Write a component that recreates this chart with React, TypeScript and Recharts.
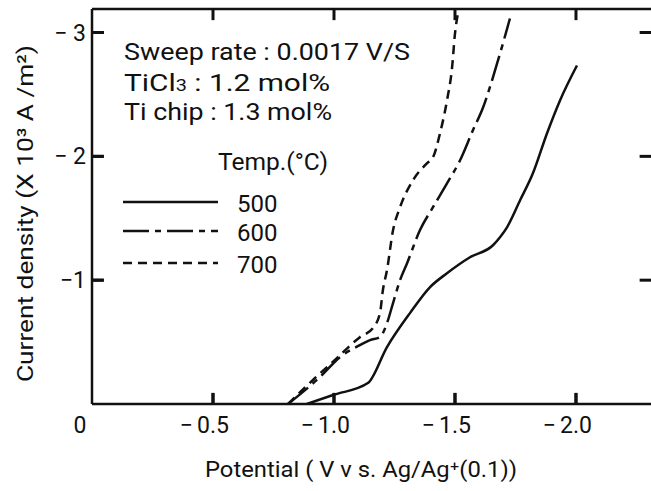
import { LineChart, Line, XAxis, YAxis, ReferenceLine } from 'recharts'

interface Pt {
  x: number
  y: number
}

// potential (V vs Ag/Ag+) and current density (x10^3 A/m^2)
const temp500: Pt[] = [
  { x: -0.888, y: 0 },
  { x: -0.996, y: -0.073 },
  { x: -1.14, y: -0.169 },
  { x: -1.219, y: -0.46 },
  { x: -1.314, y: -0.734 },
  { x: -1.397, y: -0.944 },
  { x: -1.467, y: -1.056 },
  { x: -1.562, y: -1.185 },
  { x: -1.657, y: -1.282 },
  { x: -1.686, y: -1.347 },
  { x: -1.715, y: -1.427 },
  { x: -1.769, y: -1.645 },
  { x: -1.822, y: -1.863 },
  { x: -1.88, y: -2.185 },
  { x: -1.934, y: -2.452 },
  { x: -2.004, y: -2.734 },
]

const temp600: Pt[] = [
  { x: -0.81, y: 0 },
  { x: -0.942, y: -0.218 },
  { x: -1.025, y: -0.379 },
  { x: -1.107, y: -0.476 },
  { x: -1.149, y: -0.516 },
  { x: -1.19, y: -0.54 },
  { x: -1.219, y: -0.653 },
  { x: -1.244, y: -0.815 },
  { x: -1.273, y: -1.0 },
  { x: -1.302, y: -1.137 },
  { x: -1.355, y: -1.403 },
  { x: -1.409, y: -1.589 },
  { x: -1.467, y: -1.782 },
  { x: -1.521, y: -1.968 },
  { x: -1.574, y: -2.21 },
  { x: -1.616, y: -2.395 },
  { x: -1.674, y: -2.75 },
  { x: -1.727, y: -3.113 },
]

const temp700: Pt[] = [
  { x: -0.81, y: 0 },
  { x: -0.913, y: -0.194 },
  { x: -1.012, y: -0.371 },
  { x: -1.107, y: -0.54 },
  { x: -1.161, y: -0.613 },
  { x: -1.19, y: -0.734 },
  { x: -1.202, y: -0.919 },
  { x: -1.219, y: -1.081 },
  { x: -1.244, y: -1.403 },
  { x: -1.273, y: -1.589 },
  { x: -1.326, y: -1.806 },
  { x: -1.384, y: -1.944 },
  { x: -1.409, y: -1.992 },
  { x: -1.438, y: -2.185 },
  { x: -1.467, y: -2.452 },
  { x: -1.488, y: -2.718 },
  { x: -1.5, y: -2.992 },
  { x: -1.512, y: -3.153 },
]

const xTicks = [0, -0.5, -1.0, -1.5, -2.0]
const yTicks = [-3, -2, -1]
const legendTemps = ['500', '600', '700']

const X_MAX = -2.31
const Y_MAX = -3.19
// inward tick lengths in data units (~11px)
const TICK_DY = 0.09
const TICK_DX = 0.047

const FONT = 'Roboto, "DejaVu Sans", sans-serif'
const INK = '#111'

const dashes: Record<string, string | undefined> = {
  '500': undefined,
  '600': '26 6 6 6',
  '700': '9 6',
}

const BottomTick = (props: any) => {
  const { x, y, payload } = props
  const v: number = payload.value
  const num = Math.abs(v).toFixed(v === 0 ? 0 : 1)
  if (v === 0) {
    return (
      <text x={x - 12} y={y + 29} textAnchor="middle" fontSize={23} fontFamily={FONT} fill={INK}>0</text>
    )
  }
  return (
    <g>
      <line x1={x} x2={x} y1={y} y2={y - 11} stroke={INK} strokeWidth={3} />
      <text x={x} y={y + 29} textAnchor="middle" fontSize={23} fontFamily={FONT} fill={INK}>{num}</text>
      <text x={x - 20} y={y + 29} textAnchor="end" fontSize={23} fontFamily={FONT} fill={INK}>−</text>
    </g>
  )
}

const LeftTick = (props: any) => {
  const { x, y, payload } = props
  const v: number = payload.value
  const label = v === -1 ? '−1' : `− ${Math.abs(v)}`
  return (
    <g>
      <line x1={x} x2={x + 12} y1={y} y2={y} stroke={INK} strokeWidth={3} />
      <text x={x - 6} y={y + 8} textAnchor="end" fontSize={23} fontFamily={FONT} fill={INK}>{label}</text>
    </g>
  )
}

export default function App() {
  const tickProps = { stroke: INK, strokeWidth: 3, ifOverflow: 'visible' as const }
  return (
    <div style={{ position: 'absolute', left: 0, top: 0, width: 651, height: 491, overflow: 'hidden', background: '#fff' }}>
      <svg width={651} height={491} style={{ position: 'absolute', left: 0, top: 0, zIndex: 0 }}>
        <g fontFamily={FONT} fill={INK} fontSize={24}>
          <text x={124} y={60} textLength={286} lengthAdjust="spacingAndGlyphs">Sweep rate : 0.0017 V/S</text>
          <text x={124} y={91} textLength={206} lengthAdjust="spacingAndGlyphs">TiCl<tspan fontSize={16}>3</tspan> : 1.2 mol%</text>
          <text x={124} y={120} textLength={208} lengthAdjust="spacingAndGlyphs">Ti chip : 1.3 mol%</text>
          <text x={218} y={170} textLength={110} lengthAdjust="spacingAndGlyphs">Temp.(°C)</text>
          {legendTemps.map((t, i) => {
            const ly = [202, 231, 263][i]
            return (
              <g key={t}>
                <line x1={123} x2={218} y1={ly} y2={ly} stroke={INK} strokeWidth={2.5} strokeDasharray={dashes[t]} />
                <text x={237} y={ly + 10}>{t}</text>
              </g>
            )
          })}
          <text x={205} y={477} fontSize={22} textLength={312} lengthAdjust="spacingAndGlyphs">Potential  ( V  v s. Ag/Ag⁺(0.1))</text>
          <text
            x={0}
            y={0}
            fontSize={22}
            transform="translate(33, 382) rotate(-90)"
            textLength={337}
            lengthAdjust="spacingAndGlyphs"
          >
            Current  density (X 10³ A /m²)
          </text>
        </g>
      </svg>

      <div style={{ position: 'absolute', left: 0, top: 0, zIndex: 1 }}>
        <LineChart width={652} height={491} margin={{ top: 9, right: 1, left: 91, bottom: 86 }}>
          <XAxis
            dataKey="x"
            type="number"
            domain={[X_MAX, 0]}
            reversed
            ticks={xTicks}
            height={1}
            tickSize={0}
            tickMargin={0}
            tickLine={false}
            tick={BottomTick}
            axisLine={{ stroke: INK, strokeWidth: 2.5 }}
            allowDataOverflow
          />
          <YAxis
            type="number"
            domain={[Y_MAX, 0]}
            reversed
            ticks={yTicks}
            width={1}
            tickSize={0}
            tickMargin={0}
            tickLine={false}
            tick={LeftTick}
            axisLine={{ stroke: INK, strokeWidth: 2.5 }}
            allowDataOverflow
          />
          <ReferenceLine y={Y_MAX} stroke={INK} strokeWidth={2.5} ifOverflow="visible" />
          {xTicks.filter((t) => t !== 0).map((t) => (
            <ReferenceLine key={`b${t}`} segment={[{ x: t, y: 0 }, { x: t, y: -TICK_DY }]} {...tickProps} />
          ))}
          {xTicks.filter((t) => t !== 0).map((t) => (
            <ReferenceLine key={`t${t}`} segment={[{ x: t, y: Y_MAX }, { x: t, y: Y_MAX + TICK_DY }]} {...tickProps} />
          ))}
          {yTicks.map((t) => (
            <ReferenceLine key={`l${t}`} segment={[{ x: 0, y: t }, { x: -TICK_DX, y: t }]} {...tickProps} />
          ))}
          {yTicks.map((t) => (
            <ReferenceLine key={`r${t}`} segment={[{ x: X_MAX, y: t }, { x: X_MAX + TICK_DX, y: t }]} {...tickProps} />
          ))}
          <Line data={temp500} dataKey="y" type="monotone" stroke={INK} strokeWidth={2.5} dot={false} isAnimationActive={false} />
          <Line data={temp600} dataKey="y" type="monotone" stroke={INK} strokeWidth={2.5} strokeDasharray={dashes['600']} dot={false} isAnimationActive={false} />
          <Line data={temp700} dataKey="y" type="monotone" stroke={INK} strokeWidth={2.5} strokeDasharray={dashes['700']} dot={false} isAnimationActive={false} />
        </LineChart>
      </div>
    </div>
  )
}
